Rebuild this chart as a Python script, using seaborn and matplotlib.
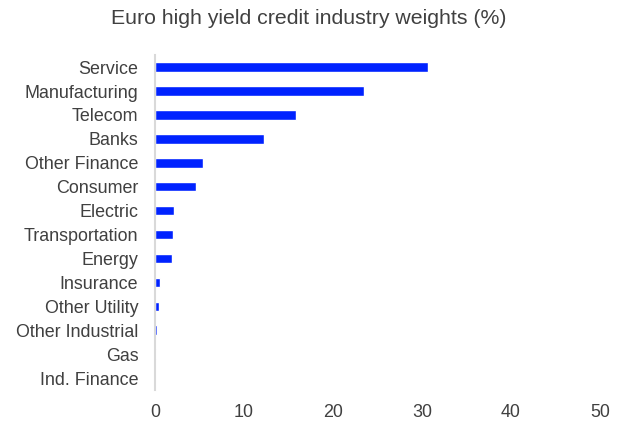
import matplotlib
matplotlib.use("Agg")
import matplotlib.pyplot as plt
import seaborn as sns
import pandas as pd

categories = ["Service", "Manufacturing", "Telecom", "Banks", "Other Finance", "Consumer",
              "Electric", "Transportation", "Energy", "Insurance", "Other Utility",
              "Other Industrial", "Gas", "Ind. Finance"]
weights = [30.7, 23.5, 15.8, 12.25, 5.4, 4.6, 2.15, 2.0, 1.9, 0.6, 0.4, 0.22, 0.12, 0.02]
x_ticks = [0, 10, 20, 30, 40, 50]

sns.set_theme(style="white")
plt.rcParams["font.family"] = ["Liberation Sans", "DejaVu Sans"]

df = pd.DataFrame({"category": categories, "weight": weights})

fig = plt.figure(figsize=(6.25, 4.24), dpi=100)
ax = fig.add_axes([0.248, 0.080, 0.712, 0.790])
sns.barplot(data=df, x="weight", y="category", orient="h", color="#0022ff",
            saturation=1, width=0.4, ax=ax)

ax.set_xlim(0, 50)
ax.set_ylim(13.5, -0.5)
ax.set_xticks(x_ticks)
ax.set_xticklabels([str(t) for t in x_ticks], fontsize=12.9, color="#404040")
ax.tick_params(axis="y", labelsize=12.9, labelcolor="#404040", length=0, pad=12)
ax.tick_params(axis="x", length=0, pad=10)
ax.set_xlabel("")
ax.set_ylabel("")
for s in ["top", "right", "bottom"]:
    ax.spines[s].set_visible(False)
ax.spines["left"].set_color("#d9d9d9")
ax.spines["left"].set_linewidth(1.5)

fig.text(0.494, 0.957, "Euro high yield credit industry weights (%)", ha="center", va="center",
         fontsize=15.3, color="#404040")

fig.savefig("out.png", dpi=100)
